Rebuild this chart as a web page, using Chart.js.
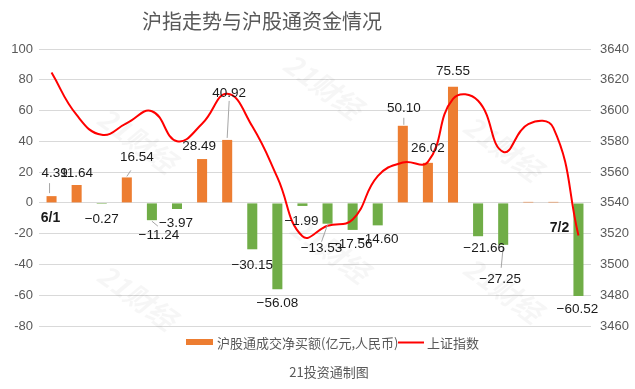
<!DOCTYPE html>
<html>
<head>
<meta charset="utf-8">
<script src="https://cdn.jsdelivr.net/npm/chart.js@4"></script>
<style>
  html, body { margin: 0; padding: 0; background: #fff; }
  #wrap { width: 635px; height: 389px; }
</style>
</head>
<body>
<div id="wrap"><canvas id="flowChart" width="635" height="389"></canvas></div>
<script>
// trading days, 6/18 not shown in the source chart
const days = ['6/1', '6/2', '6/3', '6/4', '6/7', '6/8', '6/9', '6/10', '6/11', '6/15', '6/16',
    '6/17', '6/21', '6/22', '6/23', '6/24', '6/25', '6/28', '6/29', '6/30', '7/1', '7/2'];
// 沪股通成交净买额 (亿元)
const netBuy = [4.39, 11.64, -0.27, 16.54, -11.24, -3.97, 28.49, 40.92, -30.15, -56.08, -1.99,
    -13.53, -17.56, -14.60, 50.10, 26.02, 75.55, -21.66, -27.25, 0.5, 0.5, -60.52];
// 上证指数 close
const shIndex = [3624.71, 3597.14, 3584.22, 3591.84, 3599.54, 3580.11, 3591.40, 3610.86, 3589.75,
    3556.56, 3518.33, 3525.10, 3529.18, 3557.41, 3566.22, 3566.65, 3607.56, 3606.37, 3573.18,
    3591.20, 3588.78, 3518.76];
const leftTicks = [-80, -60, -40, -20, 0, 20, 40, 60, 80, 100];
const rightTicks = [3460, 3480, 3500, 3520, 3540, 3560, 3580, 3600, 3620, 3640];

// where each value label sits, relative to the tip of its bar
const labelOffsets = [[3, -23], [0, -12], [0, 15], [10, -20], [7, 15], [-1, 14], [-3, -13], [2, -47],
    [0, 16], [0, 14], [-1, 15], [-6, 25], [-1, 14], [0, 13.5], [1, -18], [0, -15], [0, -15],
    [6, 12], [-3, 34], null, null, [-1, 13]];
// little grey leader lines (from / to, relative to bar tip)
const leaders = {0: [-2, -3, -2, -13], 3: [0, -1, 4, -7], 4: [0, 1, 6, 6], 7: [0, -2, 2, -39],
    11: [0, 1, -6, 18], 14: [1, -1, 1, -8], 18: [0, 2, -2, 23]};

const ORANGE = '#ED7D31';
const GREEN = '#70AD47';
const GREY = '#595959';
const CJK = '"Noto Sans CJK SC", "Liberation Sans", sans-serif';
const NUM = '"Liberation Sans", Arial, sans-serif';

function fmt(v) {
    return (v < 0 ? '\u2212' : '') + Math.abs(v).toFixed(2);
}

const decor = {
    id: 'decor',
    beforeDraw(chart) {
        const c = chart.ctx;
        c.save();
        c.fillStyle = '#fff';
        c.fillRect(0, 0, chart.width, chart.height);
        c.restore();
    },
    afterDatasetsDraw(chart) {
        const c = chart.ctx;
        const bars = chart.getDatasetMeta(1).data;
        c.save();
        // leaders
        c.strokeStyle = '#A6A6A6';
        c.lineWidth = 1;
        Object.keys(leaders).forEach(k => {
            const b = bars[k], l = leaders[k];
            c.beginPath();
            c.moveTo(b.x + l[0], b.y + l[1]);
            c.lineTo(b.x + l[2], b.y + l[3]);
            c.stroke();
        });
        // value labels
        c.font = '13.5px ' + NUM;
        c.fillStyle = '#1a1a1a';
        c.textAlign = 'center';
        c.textBaseline = 'middle';
        bars.forEach((b, i) => {
            const o = labelOffsets[i];
            if (!o) return;
            c.fillText(fmt(netBuy[i]), b.x + o[0], b.y + o[1]);
        });
        // first / last date
        c.font = 'bold 14px ' + NUM;
        c.fillText(days[0], bars[0].x - 1, 218);
        c.fillText(days[days.length - 1], bars[bars.length - 1].x - 19, 228);
        c.restore();
    },
    afterDraw(chart) {
        const c = chart.ctx;
        c.save();
        // title
        c.fillStyle = GREY;
        c.font = '20px ' + CJK;
        c.textAlign = 'center';
        c.textBaseline = 'middle';
        c.fillText('沪指走势与沪股通资金情况', 262, 21);
        // legend
        c.fillStyle = ORANGE;
        c.fillRect(186, 339, 27, 6);
        c.strokeStyle = '#FF0000';
        c.lineWidth = 2;
        c.beginPath();
        c.moveTo(398, 342.5);
        c.lineTo(424, 342.5);
        c.stroke();
        c.fillStyle = GREY;
        c.font = '13px ' + CJK;
        c.textAlign = 'left';
        c.fillText('沪股通成交净买额(亿元,人民币)', 217, 343);
        c.fillText('上证指数', 427, 343);
        // footer
        c.textAlign = 'center';
        c.fillText('21投资通制图', 329, 372);
        // watermarks
        c.font = 'bold italic 28px ' + CJK;
        c.fillStyle = 'rgba(0,0,0,0.035)';
        [[137, 140], [137, 297], [323, 86], [330, 250], [503, 148], [503, 290]].forEach(p => {
            c.save();
            c.translate(p[0], p[1]);
            c.rotate(Math.PI / 5);
            c.fillText('21财经', 0, 0);
            c.restore();
        });
        c.restore();
    }
};

const ctx = document.getElementById('flowChart').getContext('2d');
new Chart(ctx, {
    type: 'bar',
    data: {
        labels: days,
        datasets: [{
            type: 'line',
            label: '上证指数',
            data: shIndex,
            yAxisID: 'y1',
            borderColor: '#FF0000',
            borderWidth: 2,
            pointRadius: 0,
            tension: 0.45,
            order: 0
        }, {
            label: '沪股通成交净买额(亿元,人民币)',
            data: netBuy,
            yAxisID: 'y',
            backgroundColor: netBuy.map(v => v >= 0 ? ORANGE : GREEN),
            barPercentage: 0.4,
            categoryPercentage: 1,
            minBarLength: 1,
            order: 1
        }]
    },
    options: {
        responsive: false,
        animation: false,
        devicePixelRatio: 1,
        layout: { padding: { top: 49, bottom: 63, left: 0, right: 0 } },
        plugins: {
            legend: { display: false },
            title: { display: false },
            tooltip: { enabled: false }
        },
        scales: {
            x: { display: false },
            y: {
                position: 'left',
                min: leftTicks[0],
                max: leftTicks[leftTicks.length - 1],
                afterBuildTicks: s => { s.ticks = leftTicks.map(v => ({ value: v })); },
                afterFit: s => { s.width = 39; },
                border: { display: false },
                grid: { color: '#D9D9D9', drawTicks: false },
                ticks: { padding: 6, color: GREY, font: { family: NUM, size: 13 },
                    callback: v => String(v) }
            },
            y1: {
                position: 'right',
                min: rightTicks[0],
                max: rightTicks[rightTicks.length - 1],
                afterBuildTicks: s => { s.ticks = rightTicks.map(v => ({ value: v })); },
                afterFit: s => { s.width = 44; },
                border: { display: false },
                grid: { display: false, drawTicks: false },
                ticks: { padding: 9, color: GREY, font: { family: NUM, size: 13 },
                    callback: v => String(v) }
            }
        }
    },
    plugins: [decor]
});
</script>
</body>
</html>
